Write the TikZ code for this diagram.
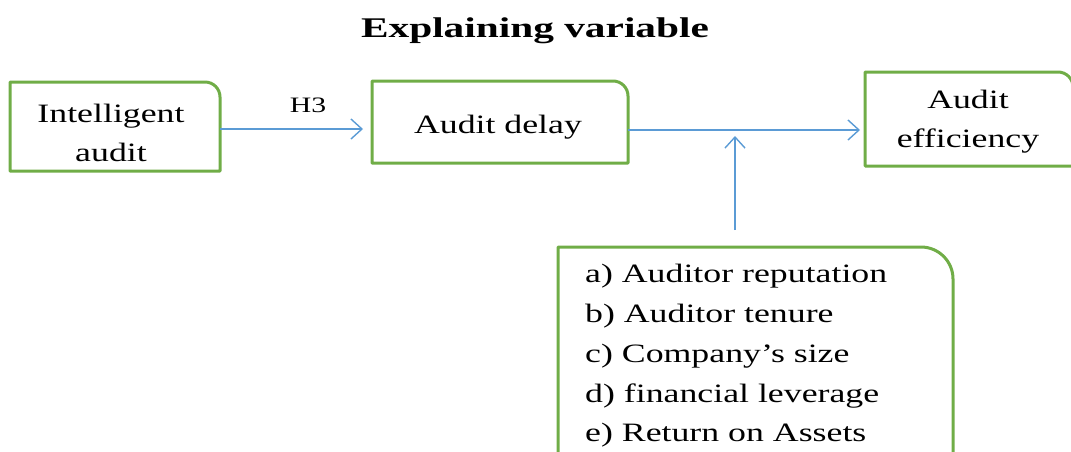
\documentclass[tikz,border=0pt]{standalone}
\usepackage{fontspec}
\setmainfont[FakeStretch=1.35]{Liberation Serif}
\newfontfamily\titlefont[FakeStretch=1.45]{Liberation Serif}
\usetikzlibrary{arrows.meta}
\definecolor{boxgreen}{HTML}{70AD47}
\definecolor{arrblue}{HTML}{5B9BD5}
\tikzset{
  frame/.style={draw=boxgreen, line width=3pt, line join=round},
  holder/.style={inner sep=0pt, outer sep=0pt, draw=none},
  label/.style={inner sep=0pt, align=center, font=\fontsize{26.5}{39}\selectfont},
  arr/.style={draw=arrblue, line width=1.4pt, -{Straight Barb[length=11pt,width=20pt,line width=1.4pt]}},
}
\newcommand{\frameshape}[2]{\draw[frame] (#1.south west) -- (#1.north west) -- ([xshift=-#2pt]#1.north east) arc[start angle=90,end angle=0,radius=#2pt] -- (#1.south east) -- cycle;}
\begin{document}
\begin{tikzpicture}[x=1pt,y=1pt]
\useasboundingbox (0,0) rectangle (1071,-451);
\node[font=\titlefont\bfseries\fontsize{28.5}{32}\selectfont, inner sep=0pt] (title) at (535,-31) {Explaining variable};

\node[holder, minimum width=210pt, minimum height=89pt] (b1) at (115,-126.5) {};
\node[holder, minimum width=256pt, minimum height=82pt] (b2) at (500,-122) {};
\node[holder, minimum width=208pt, minimum height=94pt] (b3) at (969,-119) {};
\node[holder, minimum width=395pt, minimum height=223pt] (b4) at (755.5,-358.5) {};
\frameshape{b1}{15}
\frameshape{b2}{15}
\frameshape{b3}{15}
\frameshape{b4}{32}

\node[label] (t1) at (111,-132.5) {Intelligent\\audit};
\node[label] (t2) at (498,-127.5) {Audit delay};
\node[label] (t3) at (968,-122) {Audit\\efficiency};
\node[label, align=left, anchor=west, font=\fontsize{26.5}{39.7}\selectfont] (t4) at (585,-356) {a) Auditor reputation\\b) Auditor tenure\\c) Company’s size\\d) financial leverage\\e) Return on Assets};

\draw[arr, shorten >=9pt] ([yshift=-2.5pt]b1.east) -- ([yshift=-7pt]b2.west);
\node[font=\fontsize{22}{24}\selectfont, inner sep=0pt] (h3) at (308,-105) {H3};
\draw[arr, shorten >=5pt] ([yshift=-8pt]b2.east) -- ([yshift=-8pt]b2.east -| b3.west);
\coordinate (m) at (735,-130);
\draw[arr, shorten <=17pt, shorten >=6pt] (b4.north -| m) -- (m);
\end{tikzpicture}
\end{document}
